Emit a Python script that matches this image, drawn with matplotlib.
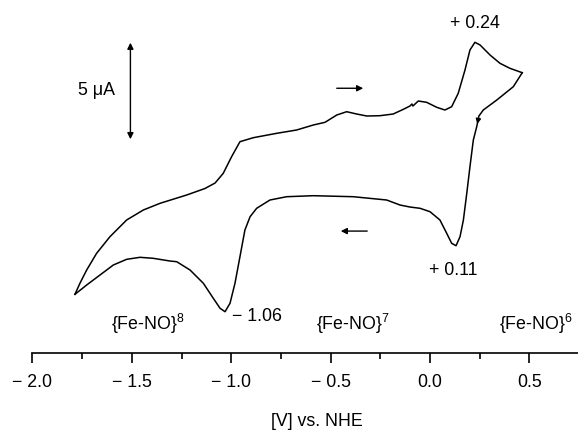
import matplotlib
matplotlib.use('Agg')
import matplotlib.pyplot as plt

plt.rcParams['font.family'] = ['Liberation Sans', 'DejaVu Sans']
plt.rcParams['mathtext.fontset'] = 'custom'
plt.rcParams['mathtext.rm'] = 'Liberation Sans'
plt.rcParams['mathtext.default'] = 'regular'

# forward (anodic) scan, left vertex -> right vertex   [V], [uA]
fwd_v = [-1.786, -1.761, -1.727, -1.677, -1.610, -1.526, -1.442, -1.358, -1.224, -1.132,
         -1.081, -1.040, -0.998, -0.956, -0.889, -0.771, -0.671, -0.587, -0.528, -0.469,
         -0.419, -0.369, -0.318, -0.252, -0.185, -0.134, -0.101, -0.091, -0.086, -0.059,
         -0.017, 0.034, 0.075, 0.109, 0.142, 0.176, 0.201, 0.226, 0.252, 0.302,
         0.352, 0.402, 0.464]
fwd_i = [-4.886, -4.316, -3.627, -2.762, -1.902, -1.036, -0.518, -0.171, 0.259, 0.596,
         0.881, 1.383, 2.244, 3.021, 3.228, 3.456, 3.627, 3.886, 4.026, 4.404,
         4.575, 4.456, 4.352, 4.368, 4.456, 4.699, 4.870, 4.974, 4.870, 5.130,
         5.062, 4.803, 4.663, 4.834, 5.529, 6.736, 7.772, 8.171, 8.031, 7.513,
         7.083, 6.824, 6.596]

# reverse (cathodic) scan, right vertex -> left vertex
rev_v = [0.464, 0.419, 0.336, 0.268, 0.246, 0.235, 0.218, 0.201, 0.185, 0.168,
         0.151, 0.131, 0.109, 0.084, 0.050, 0.000, -0.050, -0.101, -0.151, -0.218,
         -0.386, -0.587, -0.721, -0.805, -0.872, -0.905, -0.931, -0.956, -0.981, -1.006,
         -1.031, -1.056, -1.090, -1.140, -1.207, -1.274, -1.308, -1.392, -1.459, -1.526,
         -1.593, -1.660, -1.727, -1.786]
rev_i = [6.596, 5.870, 5.181, 4.663, 4.352, 3.798, 3.109, 1.725, 0.347, -1.036,
         -1.902, -2.368, -2.244, -1.725, -1.036, -0.606, -0.430, -0.363, -0.259, 0.000,
         0.171, 0.223, 0.171, 0.000, -0.430, -0.865, -1.554, -2.938, -4.316, -5.352,
         -5.788, -5.611, -5.093, -4.316, -3.627, -3.197, -3.161, -3.021, -2.969, -3.073,
         -3.368, -3.886, -4.404, -4.886]

tick_pos = [-2.0, -1.5, -1.0, -0.5, 0.0, 0.5]
tick_labels = ['\u2212 2.0', '\u2212 1.5', '\u2212 1.0', '\u2212 0.5', '0.0', '0.5']
minor_pos = [-1.75, -1.25, -0.75, -0.25, 0.25]

peak_labels = ['+ 0.24', '+ 0.11', '\u2212 1.06']
species = ['{Fe-NO}$^{8}$', '{Fe-NO}$^{7}$', '{Fe-NO}$^{6}$']

scale_ua = 5
fs = 12.8

fig = plt.figure(figsize=(5.78, 4.3), dpi=100)
ax = fig.add_axes([0, 77 / 430, 1, 353 / 430])
ax.set_xlim(-2.163, 0.7445)
ax.set_ylim(-7.927, 10.363)

ax.plot(fwd_v, fwd_i, color='black', lw=1.1, solid_joinstyle='round')
ax.plot(rev_v, rev_i, color='black', lw=1.1, solid_joinstyle='round')

# little arrowhead on the return branch
ax.annotate('', xy=(rev_v[5], rev_i[5]), xytext=(rev_v[4], rev_i[4]),
            arrowprops=dict(arrowstyle='-|>', color='black', lw=0.8, mutation_scale=8))

# scan direction arrows
ax.annotate('', xy=(-0.322, 5.79), xytext=(-0.483, 5.79),
            arrowprops=dict(arrowstyle='-|>', color='black', lw=1.0, mutation_scale=9))
ax.annotate('', xy=(-0.463, -1.61), xytext=(-0.302, -1.61),
            arrowprops=dict(arrowstyle='-|>', color='black', lw=1.0, mutation_scale=9))

# current scale bar
ax.annotate('', xy=(-1.507, 3.15 + scale_ua), xytext=(-1.507, 3.15),
            arrowprops=dict(arrowstyle='<|-|>', color='black', lw=1.0, mutation_scale=9,
                            shrinkA=0, shrinkB=0))
ax.text(-1.585, 5.65, '%d \u03bcA' % scale_ua, ha='right', va='center', fontsize=fs)

# peak potentials
ax.text(0.226, 9.17, peak_labels[0], ha='center', va='center', fontsize=fs)
ax.text(0.116, -3.63, peak_labels[1], ha='center', va='center', fontsize=fs)
ax.text(-0.996, -6.06, peak_labels[2], ha='left', va='center', fontsize=fs)

ax.text(-1.418, -6.42, species[0], ha='center', va='center', fontsize=fs)
ax.text(-0.387, -6.42, species[1], ha='center', va='center', fontsize=fs)
ax.text(0.72, -6.42, species[2], ha='right', va='center', fontsize=fs)

for side in ['top', 'left', 'right']:
    ax.spines[side].set_visible(False)
ax.spines['bottom'].set_bounds(-2.0, 0.7445)
ax.spines['bottom'].set_linewidth(1.2)
ax.set_yticks([])
ax.set_xticks(tick_pos)
ax.set_xticklabels(tick_labels, fontsize=fs)
ax.set_xticks(minor_pos, minor=True)
ax.tick_params(axis='x', which='major', direction='out', length=7, width=1.2, pad=8)
ax.tick_params(axis='x', which='minor', direction='out', length=4, width=1.2)
ax.patch.set_visible(False)

fig.text(317 / 578, 1 - 421 / 430, '[V] vs. NHE', ha='center', va='center', fontsize=fs)

fig.savefig('out.png', dpi=100)
